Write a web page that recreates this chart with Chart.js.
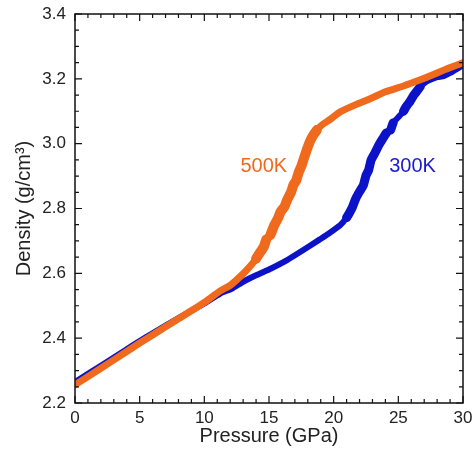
<!DOCTYPE html>
<html>
<head>
<meta charset="utf-8">
<script src="https://cdn.jsdelivr.net/npm/chart.js@4"></script>
<style>
  html, body { margin: 0; padding: 0; background: #fff; }
  #wrap { width: 473px; height: 453px; }
</style>
</head>
<body>
<div id="wrap"><canvas id="densityChart" width="473" height="453"></canvas></div>
<script>
// density vs pressure, two temperatures
var pressure300 = [0, 2, 4, 5, 6, 8, 10, 11.2, 12.2, 13, 14, 15, 16.4, 17.5, 18.9, 19.6, 20.5, 21, 21.4, 21.7, 22, 22.3, 22.5, 22.7, 22.9, 23.2, 23.5, 23.8, 24.1, 24.4, 24.6, 25.1, 25.4, 25.6, 25.9, 26.2, 26.4, 26.7, 27.2, 28, 28.5, 29, 29.75, 30];
var density300  = [2.265, 2.315, 2.366, 2.391, 2.415, 2.462, 2.507, 2.537, 2.554, 2.574, 2.594, 2.612, 2.641, 2.668, 2.704, 2.722, 2.748, 2.772, 2.8, 2.83, 2.852, 2.872, 2.902, 2.918, 2.95, 2.972, 2.996, 3.016, 3.034, 3.042, 3.064, 3.086, 3.1, 3.114, 3.13, 3.15, 3.16, 3.176, 3.192, 3.205, 3.208, 3.218, 3.236, 3.242];

var pressure500 = [0, 2, 4, 5, 6, 8, 10, 11.2, 12, 12.75, 13.5, 14, 14.3, 14.6, 14.8, 15.1, 15.4, 15.7, 15.9, 16.2, 16.4, 16.7, 16.9, 17.1, 17.3, 17.5, 17.7, 18, 18.3, 18.7, 19.1, 19.7, 20.5, 21.8, 22.8, 24, 25.4, 26.7, 27.2, 28.7, 29.75, 30];
var density500  = [2.256, 2.307, 2.359, 2.385, 2.41, 2.46, 2.51, 2.545, 2.563, 2.589, 2.62, 2.645, 2.664, 2.682, 2.705, 2.718, 2.748, 2.77, 2.79, 2.806, 2.826, 2.85, 2.874, 2.886, 2.912, 2.93, 2.955, 2.99, 3.018, 3.042, 3.058, 3.074, 3.098, 3.122, 3.138, 3.16, 3.178, 3.197, 3.205, 3.23, 3.246, 3.25];

var xTicks = [0, 5, 10, 15, 20, 25, 30];
var yTicks = [2.2, 2.4, 2.6, 2.8, 3.0, 3.2, 3.4];

var orange = '#ef6a1c';
var blue = '#0c12c8';
var font = "'Liberation Sans', Arial, sans-serif";

function toPoints(xs, ys) {
  return xs.map(function (x, i) { return { x: x, y: ys[i] }; });
}

// the noisy steep parts of the curves read as a wider band
function bandWidth(base) {
  return function (seg) {
    var dx = seg.p1.parsed.x - seg.p0.parsed.x;
    var dy = seg.p1.parsed.y - seg.p0.parsed.y;
    return dx > 0 && dy / dx > 0.05 ? base + 3 : base;
  };
}

// inward ticks on all four sides, plus the frame and curve labels
var framePlugin = {
  id: 'frame',
  afterDraw: function (chart) {
    var ctx = chart.ctx;
    var a = chart.chartArea;
    var xs = chart.scales.x, ys = chart.scales.y;
    ctx.save();
    ctx.strokeStyle = '#111';
    ctx.lineWidth = 1.5;
    ctx.strokeRect(a.left, a.top, a.right - a.left, a.bottom - a.top);
    ctx.lineWidth = 1.2;
    ctx.beginPath();
    for (var p = 0; p <= 30; p += 1) {
      var px = xs.getPixelForValue(p);
      var len = p % 5 === 0 ? 7 : 4;
      ctx.moveTo(px, a.bottom); ctx.lineTo(px, a.bottom - len);
      ctx.moveTo(px, a.top); ctx.lineTo(px, a.top + len);
    }
    for (var k = 0; k <= 24; k++) {
      var d = 2.2 + k * 0.05;
      var py = ys.getPixelForValue(d);
      var l2 = k % 4 === 0 ? 7 : 4;
      ctx.moveTo(a.left, py); ctx.lineTo(a.left + l2, py);
      ctx.moveTo(a.right, py); ctx.lineTo(a.right - l2, py);
    }
    ctx.stroke();

    ctx.font = '20px ' + font;
    ctx.textAlign = 'center';
    ctx.textBaseline = 'middle';
    ctx.fillStyle = orange;
    ctx.fillText('500K', xs.getPixelForValue(14.6), ys.getPixelForValue(2.93));
    ctx.fillStyle = '#1a1ad0';
    ctx.fillText('300K', xs.getPixelForValue(26.1), ys.getPixelForValue(2.93));
    ctx.restore();
  }
};

var ctx = document.getElementById('densityChart').getContext('2d');
new Chart(ctx, {
  type: 'scatter',
  data: {
    datasets: [{
      label: '500K',
      data: toPoints(pressure500, density500),
      showLine: true,
      borderColor: orange,
      borderWidth: 7,
      borderJoinStyle: 'round',
      borderCapStyle: 'round',
      segment: { borderWidth: bandWidth(7) },
      pointRadius: 0,
      tension: 0.15,
      order: 0
    }, {
      label: '300K',
      data: toPoints(pressure300, density300),
      showLine: true,
      borderColor: blue,
      borderWidth: 6,
      borderJoinStyle: 'round',
      borderCapStyle: 'round',
      segment: { borderWidth: bandWidth(6) },
      pointRadius: 0,
      tension: 0.15,
      order: 1
    }]
  },
  options: {
    responsive: false,
    animation: false,
    layout: { padding: { top: 14, right: 10, left: 0, bottom: 0 } },
    plugins: {
      legend: { display: false },
      tooltip: { enabled: false }
    },
    scales: {
      x: {
        type: 'linear',
        min: 0, max: 30,
        afterBuildTicks: function (s) { s.ticks = xTicks.map(function (v) { return { value: v }; }); },
        afterFit: function (s) { s.height = 50; s.paddingLeft = 0; s.paddingRight = 0; },
        grid: { display: false, drawTicks: false },
        border: { display: false },
        ticks: { color: '#222', padding: 5, maxRotation: 0, font: { size: 17, family: font } },
        title: { display: true, text: 'Pressure (GPa)', color: '#222', padding: { top: 0, bottom: 5 }, font: { size: 20, family: font } }
      },
      y: {
        type: 'linear',
        min: 2.2, max: 3.4,
        afterBuildTicks: function (s) { s.ticks = yTicks.map(function (v) { return { value: v }; }); },
        afterFit: function (s) { s.width = 75; s.paddingTop = 0; s.paddingBottom = 0; },
        grid: { display: false, drawTicks: false },
        border: { display: false },
        ticks: {
          color: '#222', padding: 9, font: { size: 17, family: font },
          callback: function (v) { return v.toFixed(1); }
        },
        title: { display: true, text: 'Density (g/cm³)', color: '#222', padding: { top: 12, bottom: 0 }, font: { size: 20, family: font } }
      }
    }
  },
  plugins: [framePlugin]
});
</script>
</body>
</html>
